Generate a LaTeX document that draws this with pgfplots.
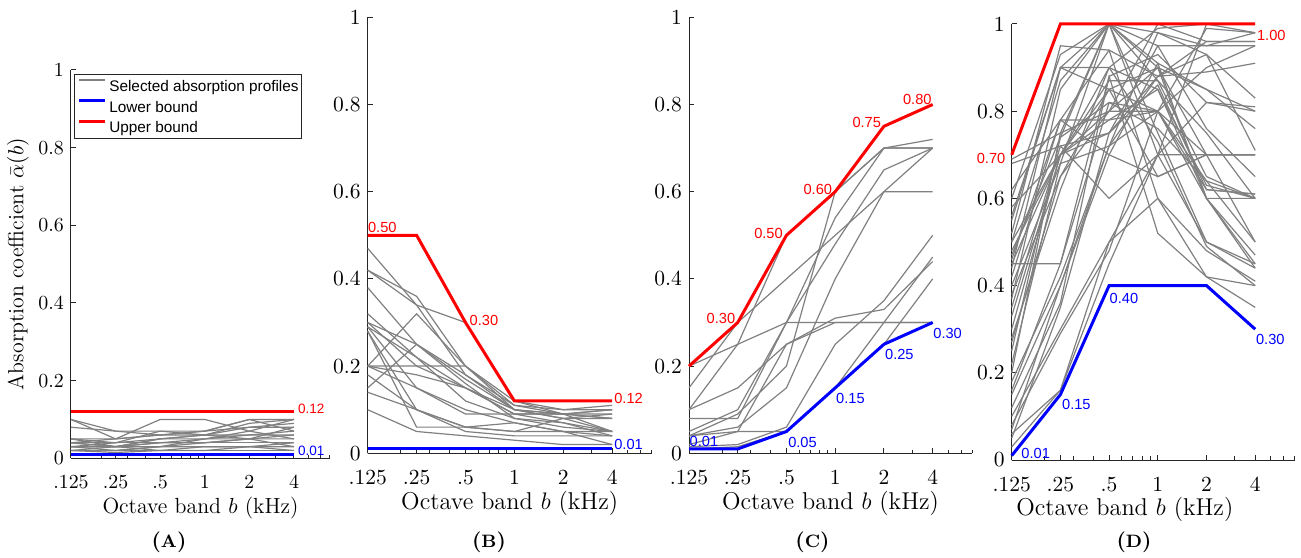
\documentclass[border=0pt]{standalone}
\usepackage{fontspec}
\usepackage{pgfplots}
\pgfplotsset{compat=1.18}
\newfontfamily\sansf{Liberation Sans}
\definecolor{axc}{rgb}{0.15,0.15,0.15}
\definecolor{profc}{rgb}{0.5,0.5,0.5}
\pgfplotsset{
 abspanel/.style={
  scale only axis,
  xmin=0.125, xmax=7, ymin=0, ymax=1,
  xtick={0.125,0.25,0.5,1,2,4},
  xticklabels={.125,.25,.5,1,2,4},
  minor xtick={0.2,0.3,0.4,0.6,0.7,0.8,0.9,3,5,6,7},
  ytick={0,0.2,0.4,0.6,0.8,1},
  yticklabels={0,0.2,0.4,0.6,0.8,1},
  axis x line*=bottom, axis y line*=left,
  axis line style={axc, line width=0.5bp},
  major tick style={axc, line width=0.5bp},
  minor tick style={axc, line width=0.5bp},
  major tick length=2.5bp, minor tick length=1.8bp,
  tick align=inside,
  xticklabel style={yshift=-5bp},
  tick label style={font=\fontsize{10.8}{13}\selectfont},
  clip=false,
  xlabel={Octave band $b$ (kHz)},
  xlabel style={at={(axis description cs:0.5,0)}, anchor=center, yshift=-25bp, font=\fontsize{12.2}{14}\selectfont},
 },
 gfirst/.style={color=profc, line width=0.6bp},
 gline/.style={color=profc, line width=0.6bp, forget plot},
 lobound/.style={color=blue, line width=1.5bp},
 hibound/.style={color=red, line width=1.5bp},
}
\tikzset{datalab/.style={font=\sansf\fontsize{7.35}{9}\selectfont, inner sep=0bp},
 datalabA/.style={font=\sansf\fontsize{6.8}{8}\selectfont, inner sep=0bp},
 subcap/.style={anchor=center, font=\fontsize{10.5}{12}\selectfont\bfseries}}
\begin{document}
\begin{tikzpicture}
\useasboundingbox (0,0) rectangle (650.5bp,279bp);
% ---------------- (A)
\begin{axis}[xmode=log, abspanel, at={(35.5bp,49.85bp)}, anchor=south west, width=129.5bp, height=194.15bp,
 tick label style={font=\fontsize{10}{12}\selectfont},
 xlabel style={font=\fontsize{11}{13}\selectfont},
 ylabel={Absorption coefficient $\bar{\alpha}(b)$},
 ylabel style={at={(axis description cs:-0.2046,0.5)}, anchor=center, font=\fontsize{11}{13}\selectfont},
 legend style={at={(axis description cs:0.0116,0.989)}, anchor=north west, draw=axc, line width=0.4bp,
   inner xsep=1.6bp, inner ysep=0.5bp, row sep=0bp, column sep=1.65bp,
   font=\sansf\fontsize{7.7}{9}\selectfont,
   nodes={inner sep=0bp, text height=7.9bp, text depth=2.45bp}},
 legend cell align=left,
 legend image code/.code={\draw[#1] (0bp,3bp) -- (12.7bp,3bp);}]
\addplot[gfirst] coordinates {(0.125,0.10)(0.25,0.05)(0.5,0.06)(1,0.07)(2,0.10)(4,0.10)};
\addlegendentry{Selected absorption profiles}
\addplot[gline] coordinates {(0.125,0.10)(0.25,0.07)(0.5,0.06)(1,0.06)(2,0.09)(4,0.10)};
\addplot[gline] coordinates {(0.125,0.08)(0.25,0.07)(0.5,0.07)(1,0.06)(2,0.05)(4,0.08)};
\addplot[gline] coordinates {(0.125,0.05)(0.25,0.05)(0.5,0.10)(1,0.10)(2,0.07)(4,0.05)};
\addplot[gline] coordinates {(0.125,0.05)(0.25,0.04)(0.5,0.07)(1,0.07)(2,0.10)(4,0.07)};
\addplot[gline] coordinates {(0.125,0.04)(0.25,0.03)(0.5,0.05)(1,0.06)(2,0.08)(4,0.09)};
\addplot[gline] coordinates {(0.125,0.04)(0.25,0.04)(0.5,0.04)(1,0.04)(2,0.04)(4,0.04)};
\addplot[gline] coordinates {(0.125,0.03)(0.25,0.03)(0.5,0.03)(1,0.05)(2,0.07)(4,0.10)};
\addplot[gline] coordinates {(0.125,0.03)(0.25,0.02)(0.5,0.03)(1,0.03)(2,0.03)(4,0.03)};
\addplot[gline] coordinates {(0.125,0.02)(0.25,0.02)(0.5,0.02)(1,0.02)(2,0.02)(4,0.02)};
\addplot[gline] coordinates {(0.125,0.02)(0.25,0.03)(0.5,0.04)(1,0.05)(2,0.05)(4,0.06)};
\addplot[gline] coordinates {(0.125,0.03)(0.25,0.04)(0.5,0.05)(1,0.06)(2,0.06)(4,0.06)};
\addplot[gline] coordinates {(0.125,0.05)(0.25,0.03)(0.5,0.02)(1,0.02)(2,0.03)(4,0.04)};
\addplot[gline] coordinates {(0.125,0.02)(0.25,0.02)(0.5,0.03)(1,0.04)(2,0.05)(4,0.05)};
\addplot[gline] coordinates {(0.125,0.04)(0.25,0.05)(0.5,0.06)(1,0.07)(2,0.08)(4,0.08)};
\addplot[gline] coordinates {(0.125,0.03)(0.25,0.03)(0.5,0.04)(1,0.04)(2,0.05)(4,0.03)};
\addplot[gline] coordinates {(0.125,0.02)(0.25,0.015)(0.5,0.02)(1,0.03)(2,0.03)(4,0.02)};
\addplot[gline] coordinates {(0.125,0.04)(0.25,0.03)(0.5,0.05)(1,0.05)(2,0.06)(4,0.07)};
\addplot[lobound] coordinates {(0.125,0.01)(0.25,0.01)(0.5,0.01)(1,0.01)(2,0.01)(4,0.01)};
\addlegendentry{Lower bound}
\addplot[hibound] coordinates {(0.125,0.12)(0.25,0.12)(0.5,0.12)(1,0.12)(2,0.12)(4,0.12)};
\addlegendentry{Upper bound}
\node[datalabA, red, anchor=base west, xshift=1.85bp, yshift=-0.8bp] at (axis cs:4,0.12) {0.12};
\node[datalabA, blue, anchor=base west, xshift=1.85bp, yshift=-0.65bp] at (axis cs:4,0.01) {0.01};
\end{axis}
% ---------------- (B)
\begin{axis}[xmode=log, abspanel, at={(183.85bp,52.35bp)}, anchor=south west, width=142bp, height=218bp]
\addplot[gline] coordinates {(0.125,0.47)(0.25,0.34)(0.5,0.18)(1,0.10)(2,0.08)(4,0.05)};
\addplot[gline] coordinates {(0.125,0.42)(0.25,0.36)(0.5,0.20)(1,0.11)(2,0.09)(4,0.05)};
\addplot[gline] coordinates {(0.125,0.42)(0.25,0.34)(0.5,0.30)(1,0.12)(2,0.10)(4,0.10)};
\addplot[gline] coordinates {(0.125,0.38)(0.25,0.25)(0.5,0.17)(1,0.10)(2,0.09)(4,0.08)};
\addplot[gline] coordinates {(0.125,0.32)(0.25,0.22)(0.5,0.15)(1,0.09)(2,0.07)(4,0.04)};
\addplot[gline] coordinates {(0.125,0.30)(0.25,0.25)(0.5,0.18)(1,0.11)(2,0.10)(4,0.11)};
\addplot[gline] coordinates {(0.125,0.30)(0.25,0.20)(0.5,0.15)(1,0.09)(2,0.09)(4,0.10)};
\addplot[gline] coordinates {(0.125,0.29)(0.25,0.22)(0.5,0.12)(1,0.08)(2,0.06)(4,0.05)};
\addplot[gline] coordinates {(0.125,0.28)(0.25,0.10)(0.5,0.06)(1,0.05)(2,0.05)(4,0.04)};
\addplot[gline] coordinates {(0.125,0.20)(0.25,0.32)(0.5,0.20)(1,0.10)(2,0.08)(4,0.08)};
\addplot[gline] coordinates {(0.125,0.15)(0.25,0.25)(0.5,0.16)(1,0.08)(2,0.07)(4,0.05)};
\addplot[gline] coordinates {(0.125,0.20)(0.25,0.18)(0.5,0.15)(1,0.10)(2,0.09)(4,0.09)};
\addplot[gline] coordinates {(0.125,0.20)(0.25,0.15)(0.5,0.09)(1,0.09)(2,0.09)(4,0.08)};
\addplot[gline] coordinates {(0.125,0.18)(0.25,0.10)(0.5,0.06)(1,0.07)(2,0.05)(4,0.05)};
\addplot[gline] coordinates {(0.125,0.14)(0.25,0.10)(0.5,0.05)(1,0.04)(2,0.04)(4,0.04)};
\addplot[gline] coordinates {(0.125,0.10)(0.25,0.05)(0.5,0.04)(1,0.03)(2,0.02)(4,0.02)};
\addplot[gline] coordinates {(0.125,0.29)(0.25,0.15)(0.5,0.10)(1,0.07)(2,0.05)(4,0.02)};
\addplot[gline] coordinates {(0.125,0.20)(0.25,0.20)(0.5,0.20)(1,0.12)(2,0.09)(4,0.10)};
\addplot[gline] coordinates {(0.125,0.28)(0.25,0.06)(0.5,0.06)(1,0.05)(2,0.08)(4,0.09)};
\addplot[lobound] coordinates {(0.125,0.01)(0.25,0.01)(0.5,0.01)(1,0.01)(2,0.01)(4,0.01)};
\addplot[hibound] coordinates {(0.125,0.50)(0.25,0.50)(0.5,0.30)(1,0.12)(2,0.12)(4,0.12)};
\node[datalab, red, anchor=base west, xshift=0bp, yshift=1.5bp] at (axis cs:0.125,0.50) {0.50};
\node[datalab, red, anchor=base west, xshift=1.9bp, yshift=-1.75bp] at (axis cs:0.5,0.30) {0.30};
\node[datalab, red, anchor=base west, xshift=0.85bp, yshift=-1.15bp] at (axis cs:4,0.12) {0.12};
\node[datalab, blue, anchor=base west, xshift=0.85bp, yshift=-0.5bp] at (axis cs:4,0.01) {0.01};
\end{axis}
% ---------------- (C)
\begin{axis}[xmode=log, abspanel, at={(344.5bp,52.35bp)}, anchor=south west, width=141.5bp, height=218bp]
\addplot[gline] coordinates {(0.125,0.20)(0.25,0.25)(0.5,0.30)(1,0.30)(2,0.30)(4,0.30)};
\addplot[gline] coordinates {(0.125,0.15)(0.25,0.30)(0.5,0.40)(1,0.50)(2,0.60)(4,0.70)};
\addplot[gline] coordinates {(0.125,0.10)(0.25,0.25)(0.5,0.50)(1,0.60)(2,0.70)(4,0.72)};
\addplot[gline] coordinates {(0.125,0.10)(0.25,0.15)(0.5,0.25)(1,0.31)(2,0.33)(4,0.44)};
\addplot[gline] coordinates {(0.125,0.08)(0.25,0.08)(0.5,0.30)(1,0.54)(2,0.70)(4,0.70)};
\addplot[gline] coordinates {(0.125,0.05)(0.25,0.10)(0.5,0.30)(1,0.48)(2,0.65)(4,0.70)};
\addplot[gline] coordinates {(0.125,0.04)(0.25,0.09)(0.5,0.20)(1,0.60)(2,0.70)(4,0.70)};
\addplot[gline] coordinates {(0.125,0.04)(0.25,0.06)(0.5,0.15)(1,0.40)(2,0.60)(4,0.60)};
\addplot[gline] coordinates {(0.125,0.02)(0.25,0.05)(0.5,0.25)(1,0.30)(2,0.30)(4,0.30)};
\addplot[gline] coordinates {(0.125,0.015)(0.25,0.02)(0.5,0.06)(1,0.25)(2,0.35)(4,0.50)};
\addplot[gline] coordinates {(0.125,0.01)(0.25,0.015)(0.5,0.05)(1,0.15)(2,0.30)(4,0.45)};
\addplot[gline] coordinates {(0.125,0.04)(0.25,0.05)(0.5,0.05)(1,0.15)(2,0.25)(4,0.40)};
\addplot[lobound] coordinates {(0.125,0.01)(0.25,0.01)(0.5,0.05)(1,0.15)(2,0.25)(4,0.30)};
\addplot[hibound] coordinates {(0.125,0.20)(0.25,0.30)(0.5,0.50)(1,0.60)(2,0.75)(4,0.80)};
\node[datalab, red, anchor=base east, xshift=-1.05bp, yshift=-0.4bp] at (axis cs:0.25,0.30) {0.30};
\node[datalab, red, anchor=base east, xshift=-1.65bp, yshift=-1.5bp] at (axis cs:0.5,0.50) {0.50};
\node[datalab, red, anchor=base east, xshift=-1.35bp, yshift=-1.65bp] at (axis cs:1,0.60) {0.60};
\node[datalab, red, anchor=base east, xshift=-1.25bp, yshift=-0.7bp] at (axis cs:2,0.75) {0.75};
\node[datalab, red, anchor=base east, xshift=-0.35bp, yshift=0.1bp] at (axis cs:4,0.80) {0.80};
\node[datalab, blue, anchor=base west, xshift=0.15bp, yshift=1.1bp] at (axis cs:0.125,0.01) {0.01};
\node[datalab, blue, anchor=base west, xshift=0.7bp, yshift=-7.9bp] at (axis cs:0.5,0.05) {0.05};
\node[datalab, blue, anchor=base west, xshift=0.3bp, yshift=-7.7bp] at (axis cs:1,0.15) {0.15};
\node[datalab, blue, anchor=base west, xshift=0.4bp, yshift=-7.85bp] at (axis cs:2,0.25) {0.25};
\node[datalab, blue, anchor=base west, xshift=0.15bp, yshift=-7.9bp] at (axis cs:4,0.30) {0.30};
\end{axis}
% ---------------- (D)
\begin{axis}[xmode=log, abspanel, at={(505.85bp,49bp)}, anchor=south west, width=141.4bp, height=218bp,
 xlabel style={at={(axis description cs:0.40,0)}, yshift=0.5bp}]
\addplot[gline] coordinates {(0.125,0.69)(0.25,0.75)(0.5,0.80)(1,0.80)(2,0.70)(4,0.70)};
\addplot[gline] coordinates {(0.125,0.68)(0.25,0.72)(0.5,0.60)(1,0.70)(2,0.70)(4,0.70)};
\addplot[gline] coordinates {(0.125,0.60)(0.25,0.93)(0.5,1.00)(1,0.95)(2,0.95)(4,0.95)};
\addplot[gline] coordinates {(0.125,0.56)(0.25,0.90)(0.5,1.00)(1,0.90)(2,0.60)(4,0.60)};
\addplot[gline] coordinates {(0.125,0.52)(0.25,0.95)(0.5,0.94)(1,0.60)(2,0.42)(4,0.35)};
\addplot[gline] coordinates {(0.125,0.50)(0.25,0.87)(0.5,1.00)(1,0.98)(2,0.93)(4,0.83)};
\addplot[gline] coordinates {(0.125,0.48)(0.25,0.70)(0.5,0.90)(1,0.85)(2,0.63)(4,0.60)};
\addplot[gline] coordinates {(0.125,0.46)(0.25,0.78)(0.5,0.78)(1,0.80)(2,0.62)(4,0.61)};
\addplot[gline] coordinates {(0.125,0.45)(0.25,0.45)(0.5,0.88)(1,0.52)(2,0.42)(4,0.40)};
\addplot[gline] coordinates {(0.125,0.45)(0.25,0.70)(0.5,0.85)(1,0.90)(2,0.85)(4,0.76)};
\addplot[gline] coordinates {(0.125,0.40)(0.25,0.68)(0.5,1.00)(1,0.70)(2,0.50)(4,0.44)};
\addplot[gline] coordinates {(0.125,0.35)(0.25,0.72)(0.5,0.75)(1,0.88)(2,0.89)(4,0.91)};
\addplot[gline] coordinates {(0.125,0.30)(0.25,0.70)(0.5,0.80)(1,1.00)(2,0.96)(4,0.96)};
\addplot[gline] coordinates {(0.125,0.27)(0.25,0.65)(0.5,0.85)(1,0.65)(2,0.70)(4,0.70)};
\addplot[gline] coordinates {(0.125,0.20)(0.25,0.75)(0.5,1.00)(1,0.87)(2,0.65)(4,0.60)};
\addplot[gline] coordinates {(0.125,0.18)(0.25,0.42)(0.5,0.72)(1,0.80)(2,0.64)(4,0.50)};
\addplot[gline] coordinates {(0.125,0.15)(0.25,0.40)(0.5,0.70)(1,0.91)(2,0.60)(4,0.45)};
\addplot[gline] coordinates {(0.125,0.12)(0.25,0.36)(0.5,0.88)(1,0.93)(2,0.82)(4,0.81)};
\addplot[gline] coordinates {(0.125,0.10)(0.25,0.30)(0.5,0.50)(1,0.70)(2,1.00)(4,1.00)};
\addplot[gline] coordinates {(0.125,0.08)(0.25,0.29)(0.5,0.48)(1,0.80)(2,0.99)(4,0.98)};
\addplot[gline] coordinates {(0.125,0.06)(0.25,0.16)(0.5,0.45)(1,0.70)(2,0.82)(4,0.80)};
\addplot[gline] coordinates {(0.125,0.05)(0.25,0.35)(0.5,0.75)(1,0.95)(2,0.76)(4,0.65)};
\addplot[gline] coordinates {(0.125,0.03)(0.25,0.16)(0.5,0.50)(1,0.60)(2,0.48)(4,0.41)};
\addplot[gline] coordinates {(0.125,0.55)(0.25,0.90)(0.5,0.85)(1,0.80)(2,0.90)(4,0.95)};
\addplot[gline] coordinates {(0.125,0.50)(0.25,0.70)(0.5,0.78)(1,0.85)(2,0.60)(4,0.47)};
\addplot[gline] coordinates {(0.125,0.42)(0.25,0.78)(0.5,0.94)(1,0.88)(2,0.93)(4,0.71)};
\addplot[gline] coordinates {(0.125,0.38)(0.25,0.65)(0.5,0.80)(1,0.90)(2,0.70)(4,0.50)};
\addplot[gline] coordinates {(0.125,0.33)(0.25,0.70)(0.5,0.87)(1,0.87)(2,0.75)(4,0.60)};
\addplot[gline] coordinates {(0.125,0.25)(0.25,0.74)(0.5,1.00)(1,0.91)(2,0.85)(4,0.80)};
\addplot[gline] coordinates {(0.125,0.22)(0.25,0.68)(0.5,0.72)(1,0.98)(2,0.95)(4,0.98)};
\addplot[gline] coordinates {(0.125,0.47)(0.25,0.74)(0.5,0.82)(1,0.76)(2,0.64)(4,0.60)};
\addplot[gline] coordinates {(0.125,0.44)(0.25,0.90)(0.5,0.90)(1,0.73)(2,0.49)(4,0.40)};
\addplot[gline] coordinates {(0.125,0.58)(0.25,0.70)(0.5,0.75)(1,0.86)(2,0.62)(4,0.61)};
\addplot[gline] coordinates {(0.125,0.16)(0.25,0.45)(0.5,0.82)(1,0.80)(2,0.60)(4,0.44)};
\addplot[gline] coordinates {(0.125,0.62)(0.25,0.78)(0.5,0.70)(1,0.65)(2,0.70)(4,0.70)};
\addplot[gline] coordinates {(0.125,0.37)(0.25,0.85)(0.5,1.00)(1,0.75)(2,0.50)(4,0.45)};
\addplot[gline] coordinates {(0.125,0.28)(0.25,0.62)(0.5,0.90)(1,0.99)(2,1.00)(4,0.98)};
\addplot[gline] coordinates {(0.125,0.07)(0.25,0.40)(0.5,0.72)(1,0.88)(2,0.96)(4,0.96)};
\addplot[lobound] coordinates {(0.125,0.01)(0.25,0.15)(0.5,0.40)(1,0.40)(2,0.40)(4,0.30)};
\addplot[hibound] coordinates {(0.125,0.70)(0.25,1.00)(0.5,1.00)(1,1.00)(2,1.00)(4,1.00)};
\node[datalab, red, anchor=base east, xshift=-3bp, yshift=-4.25bp] at (axis cs:0.125,0.70) {0.70};
\node[datalab, red, anchor=base west, xshift=0.75bp, yshift=-8.35bp] at (axis cs:4,1.00) {1.00};
\node[datalab, blue, anchor=base west, xshift=0.1bp, yshift=-9.2bp] at (axis cs:0.5,0.40) {0.40};
\node[datalab, blue, anchor=base west, xshift=0.25bp, yshift=-7.9bp] at (axis cs:4,0.30) {0.30};
\node[datalab, blue, anchor=base west, xshift=0.65bp, yshift=-7.35bp] at (axis cs:0.25,0.15) {0.15};
\node[datalab, blue, anchor=base west, xshift=4.65bp, yshift=-1.35bp] at (axis cs:0.125,0.01) {0.01};
\end{axis}
% ---------------- subcaptions
\node[subcap] at (84.5bp,8bp) {(\fontsize{9}{10}\selectfont A\fontsize{10.5}{12}\selectfont)};
\node[subcap] at (244.5bp,8bp) {(\fontsize{9}{10}\selectfont B\fontsize{10.5}{12}\selectfont)};
\node[subcap] at (406.25bp,8bp) {(\fontsize{9}{10}\selectfont C\fontsize{10.5}{12}\selectfont)};
\node[subcap] at (567bp,8bp) {(\fontsize{9}{10}\selectfont D\fontsize{10.5}{12}\selectfont)};
\end{tikzpicture}
\end{document}
